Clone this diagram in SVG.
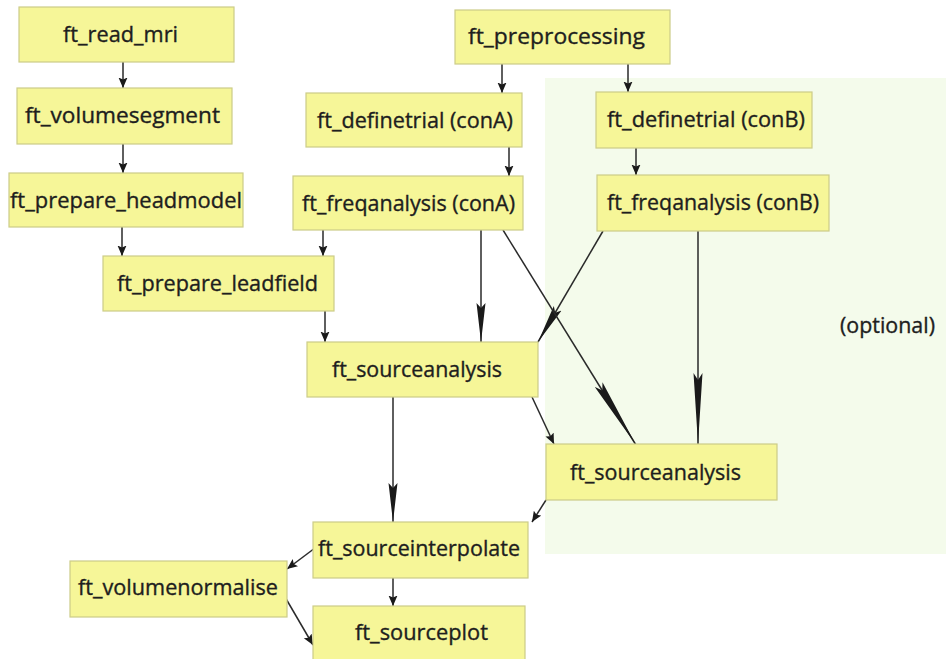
<svg xmlns="http://www.w3.org/2000/svg" width="946" height="659" viewBox="0 0 946 659">
  <style>
    .box { fill: #f6f698; stroke: #cccc88; stroke-width: 1.2; }
    .lbl { font-family: "Open Sans", "Liberation Sans", sans-serif; font-size: 21px; fill: #1e1e1e; stroke: #1e1e1e; stroke-width: 0.35; }
    .edge { fill: none; stroke: #2a2a2a; stroke-width: 1.5; }
    .tip { fill: #1a1a1a; }
  </style>
  <defs>
    <marker id="arrow-s" markerUnits="userSpaceOnUse" viewBox="0 -5 11 10" markerWidth="11" markerHeight="10" refX="10.5" refY="0" orient="auto">
      <path class="tip" d="M0,-4.5 L10.5,0 L0,4.5 L2,0 z"/>
    </marker>
    <marker id="arrow-m" markerUnits="userSpaceOnUse" viewBox="0 -5 40 10" markerWidth="40" markerHeight="10" refX="39" refY="0" orient="auto">
      <path class="tip" d="M0,-4.5 L39,0 L0,4.5 L5,0 z"/>
    </marker>
    <marker id="arrow-l" markerUnits="userSpaceOnUse" viewBox="0 -5 72 10" markerWidth="72" markerHeight="10" refX="71" refY="0" orient="auto">
      <path class="tip" d="M0,-4.5 L71,0 L0,4.5 L7,0 z"/>
    </marker>
  </defs>

  <rect width="946" height="659" fill="#ffffff"/>

  <!-- optional branch backdrop -->
  <g id="optional-region">
    <rect x="545" y="78" width="401" height="476" fill="#f4fbeb"/>
    <text class="lbl" x="840" y="333" textLength="95" lengthAdjust="spacingAndGlyphs">(optional)</text>
  </g>

  <g id="connectors">
    <line class="edge" x1="123" y1="62" x2="123" y2="88" marker-end="url(#arrow-s)"/>
    <line class="edge" x1="123" y1="144" x2="123" y2="173" marker-end="url(#arrow-s)"/>
    <line class="edge" x1="122" y1="227" x2="122" y2="256" marker-end="url(#arrow-s)"/>
    <line class="edge" x1="323" y1="230" x2="323" y2="256" marker-end="url(#arrow-s)"/>
    <line class="edge" x1="325" y1="311" x2="325" y2="342" marker-end="url(#arrow-s)"/>
    <line class="edge" x1="502" y1="64" x2="502" y2="93" marker-end="url(#arrow-s)"/>
    <line class="edge" x1="628" y1="64" x2="628" y2="92" marker-end="url(#arrow-s)"/>
    <line class="edge" x1="509" y1="147" x2="509" y2="176" marker-end="url(#arrow-s)"/>
    <line class="edge" x1="636" y1="148" x2="636" y2="175" marker-end="url(#arrow-s)"/>
    <line class="edge" x1="481" y1="230" x2="481" y2="342" marker-end="url(#arrow-m)"/>
    <line class="edge" x1="603" y1="231" x2="538" y2="342" marker-end="url(#arrow-m)"/>
    <line class="edge" x1="503" y1="230" x2="636" y2="445" marker-end="url(#arrow-l)"/>
    <line class="edge" x1="698" y1="231" x2="698" y2="444" marker-end="url(#arrow-l)"/>
    <line class="edge" x1="532" y1="397" x2="554" y2="444" marker-end="url(#arrow-s)"/>
    <line class="edge" x1="393" y1="397" x2="393" y2="522" marker-end="url(#arrow-m)"/>
    <line class="edge" x1="546" y1="500" x2="532" y2="522" marker-end="url(#arrow-s)"/>
    <line class="edge" x1="393" y1="578" x2="393" y2="606" marker-end="url(#arrow-s)"/>
    <line class="edge" x1="315" y1="548" x2="287" y2="569" marker-end="url(#arrow-s)"/>
    <line class="edge" x1="285" y1="597" x2="313" y2="645" marker-end="url(#arrow-s)"/>
  </g>

  <g id="read_mri">
    <rect class="box" x="19" y="7" width="215" height="55"/>
    <text class="lbl" x="63" y="42" textLength="115" lengthAdjust="spacingAndGlyphs">ft_read_mri</text>
  </g>
  <g id="volumesegment">
    <rect class="box" x="17" y="88" width="215" height="56"/>
    <text class="lbl" x="25" y="123" textLength="195" lengthAdjust="spacingAndGlyphs">ft_volumesegment</text>
  </g>
  <g id="prepare_headmodel">
    <rect class="box" x="9" y="173" width="234" height="54"/>
    <text class="lbl" x="10" y="208" textLength="232" lengthAdjust="spacingAndGlyphs">ft_prepare_headmodel</text>
  </g>
  <g id="prepare_leadfield">
    <rect class="box" x="103" y="256" width="231" height="55"/>
    <text class="lbl" x="117" y="291" textLength="201" lengthAdjust="spacingAndGlyphs">ft_prepare_leadfield</text>
  </g>
  <g id="preprocessing">
    <rect class="box" x="455" y="10" width="215" height="54"/>
    <text class="lbl" x="468" y="44" textLength="177" lengthAdjust="spacingAndGlyphs">ft_preprocessing</text>
  </g>
  <g id="definetrial_conA">
    <rect class="box" x="306" y="93" width="216" height="54"/>
    <text class="lbl" x="317" y="128" textLength="196" lengthAdjust="spacingAndGlyphs">ft_definetrial (conA)</text>
  </g>
  <g id="freqanalysis_conA">
    <rect class="box" x="293" y="176" width="230" height="54"/>
    <text class="lbl" x="302" y="211" textLength="213" lengthAdjust="spacingAndGlyphs">ft_freqanalysis (conA)</text>
  </g>
  <g id="definetrial_conB">
    <rect class="box" x="596" y="92" width="216" height="56"/>
    <text class="lbl" x="607" y="127" textLength="198" lengthAdjust="spacingAndGlyphs">ft_definetrial (conB)</text>
  </g>
  <g id="freqanalysis_conB">
    <rect class="box" x="597" y="175" width="232" height="56"/>
    <text class="lbl" x="607" y="210" textLength="212" lengthAdjust="spacingAndGlyphs">ft_freqanalysis (conB)</text>
  </g>
  <g id="sourceanalysis_a">
    <rect class="box" x="307" y="342" width="231" height="55"/>
    <text class="lbl" x="332" y="377" textLength="170" lengthAdjust="spacingAndGlyphs">ft_sourceanalysis</text>
  </g>
  <g id="sourceanalysis_b">
    <rect class="box" x="546" y="444" width="231" height="56"/>
    <text class="lbl" x="570" y="480" textLength="171" lengthAdjust="spacingAndGlyphs">ft_sourceanalysis</text>
  </g>
  <g id="sourceinterpolate">
    <rect class="box" x="313" y="522" width="215" height="56"/>
    <text class="lbl" x="318" y="556" textLength="202" lengthAdjust="spacingAndGlyphs">ft_sourceinterpolate</text>
  </g>
  <g id="volumenormalise">
    <rect class="box" x="70" y="561" width="217" height="56"/>
    <text class="lbl" x="78" y="595" textLength="200" lengthAdjust="spacingAndGlyphs">ft_volumenormalise</text>
  </g>
  <g id="sourceplot">
    <rect class="box" x="313" y="606" width="212" height="60"/>
    <text class="lbl" x="355" y="640" textLength="133" lengthAdjust="spacingAndGlyphs">ft_sourceplot</text>
  </g>
</svg>
